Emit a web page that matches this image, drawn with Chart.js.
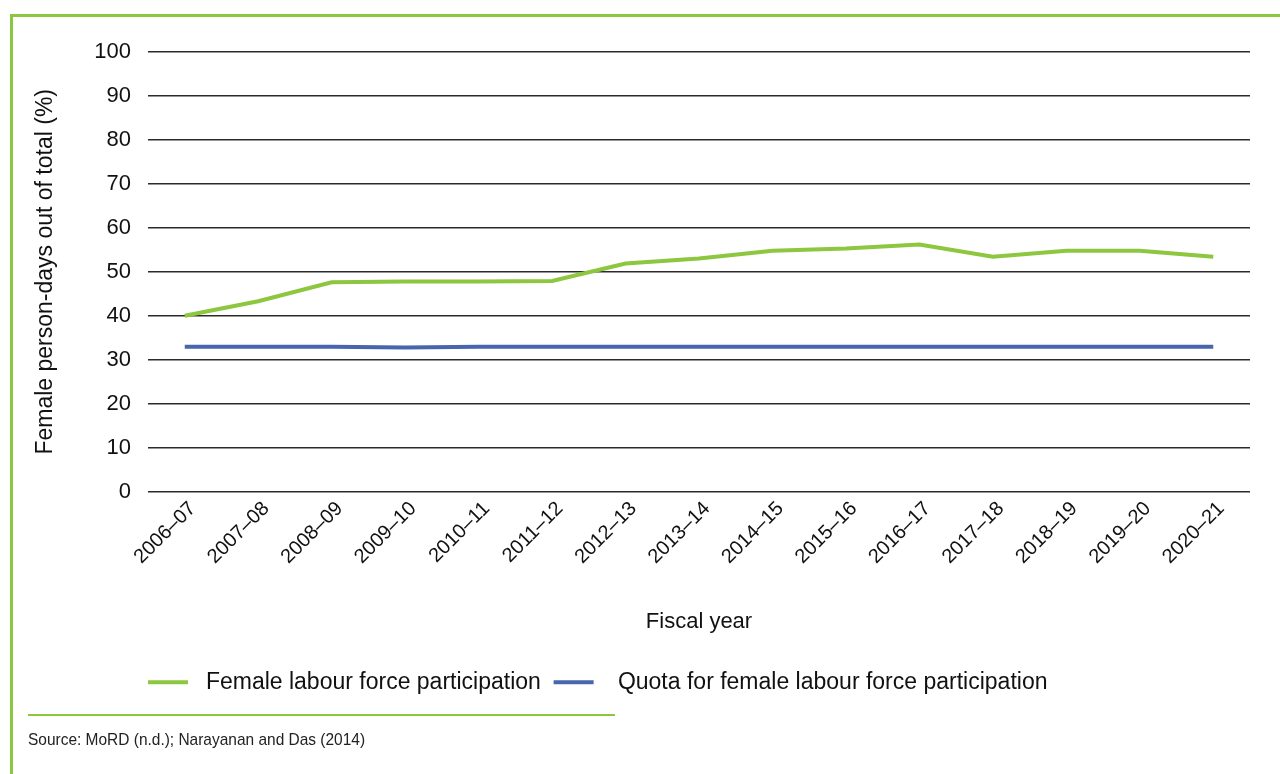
<!DOCTYPE html>
<html>
<head>
<meta charset="utf-8">
<script src="https://cdn.jsdelivr.net/npm/chart.js@4"></script>
<style>
  html, body { margin: 0; padding: 0; background: #fff; }
  #wrap { position: relative; width: 1280px; height: 774px; overflow: hidden; }
  #chart { position: absolute; left: 0; top: 0; }
  .frame-top { position: absolute; left: 10px; top: 14px; width: 1270px; height: 3px; background: #8dc63f; }
  .frame-left { position: absolute; left: 10px; top: 14px; width: 3px; height: 760px; background: #8dc63f; }
  .rule { position: absolute; left: 28px; top: 714px; width: 587px; height: 1.5px; background: #8dc63f; }
  .source { position: absolute; left: 28px; top: 730px; font: 17px "Liberation Sans", Arial, sans-serif; color: #222;
            white-space: nowrap; transform: scaleX(0.91); transform-origin: 0 0; }
</style>
</head>
<body>
<div id="wrap">
  <canvas id="chart" width="1280" height="774"></canvas>
  <div class="frame-top"></div>
  <div class="frame-left"></div>
  <div class="rule"></div>
  <div class="source">Source: MoRD (n.d.); Narayanan and Das (2014)</div>
</div>
<script>
const categories = ['2006–07', '2007–08', '2008–09', '2009–10', '2010–11', '2011–12', '2012–13',
  '2013–14', '2014–15', '2015–16', '2016–17', '2017–18', '2018–19', '2019–20', '2020–21'];
const femaleParticipation = [40.0, 43.3, 47.6, 47.8, 47.8, 47.9, 51.9, 53.0, 54.8, 55.3, 56.2, 53.4, 54.8, 54.8, 53.4];
const femaleQuota = [33, 33, 33, 32.8, 33, 33, 33, 33, 33, 33, 33, 33, 33, 33, 33];
const yTicks = [0, 10, 20, 30, 40, 50, 60, 70, 80, 90, 100];

const GREEN = '#8dc63f';
const BLUE = '#4766ad';
const FONT = '"Liberation Sans", Arial, sans-serif';

const ctx = document.getElementById('chart').getContext('2d');
const chart = new Chart(ctx, {
  type: 'line',
  data: {
    labels: categories,
    datasets: [
      {
        label: ' Female labour force participation  ',
        data: femaleParticipation,
        borderColor: GREEN,
        backgroundColor: GREEN,
        borderWidth: 4,
        pointRadius: 0,
        tension: 0,
      },
      {
        label: '  Quota for female labour force participation',
        data: femaleQuota,
        borderColor: BLUE,
        backgroundColor: BLUE,
        borderWidth: 4,
        pointRadius: 0,
        tension: 0,
      },
    ],
  },
  options: {
    responsive: false,
    animation: false,
    layout: {
      padding: { top: 51.7, right: 30, bottom: 70.3, left: 0 },
    },
    plugins: {
      tooltip: { enabled: false },
      legend: {
        position: 'bottom',
        align: 'start',
        fullSize: false,
        labels: {
          boxWidth: 40,
          boxHeight: 4,
          padding: 0,
          color: '#111',
          font: { family: FONT, size: 23 },
          generateLabels: (c) => {
            const items = Chart.defaults.plugins.legend.labels.generateLabels(c);
            items.forEach((it) => { it.lineWidth = 0; });
            return items;
          },
        },
      },
    },
    scales: {
      x: {
        type: 'category',
        offset: true,
        grid: { display: false },
        border: { display: false },
        ticks: {
          color: '#111',
          font: { family: FONT, size: 20 },
          maxRotation: 45,
          minRotation: 45,
          padding: -3,
          labelOffset: 8,
        },
        title: {
          display: true,
          text: 'Fiscal year',
          color: '#111',
          font: { family: FONT, size: 22 },
          padding: { top: 0, bottom: 36 },
        },
        afterFit: (scale) => { scale.height = 178.8; },
      },
      y: {
        min: 0,
        max: 100,
        afterBuildTicks: (scale) => { scale.ticks = yTicks.map((v) => ({ value: v })); },
        grid: { color: '#2b2b2b', lineWidth: 1.6, drawTicks: false },
        border: { display: false },
        ticks: {
          color: '#111',
          font: { family: FONT, size: 22 },
          padding: 17,
        },
        title: {
          display: true,
          text: 'Female person-days out of total (%)',
          color: '#111',
          font: { family: FONT, size: 23 },
          padding: { top: 32, bottom: 0 },
        },
        afterFit: (scale) => { scale.width = 148; },
      },
    },
  },
});
</script>
</body>
</html>
